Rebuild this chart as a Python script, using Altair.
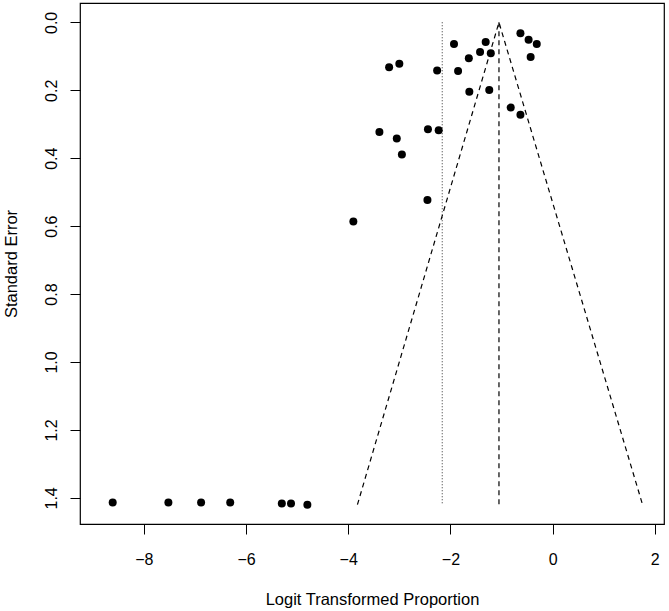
import altair as alt
import pandas as pd

# Study estimates (logit transformed proportions) and standard errors
study_x = [-0.63, -0.47, -0.31, -0.43, -1.93, -1.31, -1.42, -1.21, -1.64,
           -3.20, -3.00, -2.26, -1.85, -1.63, -1.24, -0.82, -0.63,
           -3.39, -3.05, -2.95, -2.44, -2.23, -2.45, -3.90,
           -8.61, -7.52, -6.88, -6.31, -5.30, -5.12, -4.80]
study_se = [0.032, 0.051, 0.064, 0.102, 0.064, 0.058, 0.087, 0.091, 0.106,
            0.132, 0.122, 0.142, 0.143, 0.204, 0.199, 0.251, 0.272,
            0.323, 0.342, 0.389, 0.315, 0.318, 0.523, 0.586,
            1.414, 1.414, 1.414, 1.414, 1.417, 1.417, 1.420]

# Pooled estimate (dashed) and reference line (dotted)
estimate_x = -1.05
reference_x = -2.16
max_se = 1.42

# Funnel outline vertices
funnel_x = [-3.82, -1.05, 1.76]
funnel_se = [1.42, 0.0, 1.42]

x_ticks = [-8, -6, -4, -2, 0, 2]
y_ticks = [0.0, 0.2, 0.4, 0.6, 0.8, 1.0, 1.2, 1.4]

pts = pd.DataFrame({"x": study_x, "se": study_se})
funnel = pd.DataFrame({"x": funnel_x, "se": funnel_se, "o": list(range(len(funnel_x)))})
vlines = pd.DataFrame({"x": [estimate_x, reference_x],
                       "se0": [0.0, 0.0], "se1": [max_se, max_se],
                       "kind": ["est", "ref"]})

FONT = "Liberation Sans"

xscale = alt.Scale(domain=[-9.25, 2.18], nice=False, zero=False)
yscale = alt.Scale(domain=[-0.057, 1.477], nice=False, zero=False, reverse=True)

xaxis = alt.Axis(values=x_ticks, title="Logit Transformed Proportion",
                 labelExpr="replace(datum.label, '-', '\u2212')",
                 grid=False, domain=False,
                 tickSize=10, labelPadding=30, labelBaseline="alphabetic",
                 titleX=292, titleY=80, titleBaseline="alphabetic", titleAlign="center")
yaxis = alt.Axis(values=y_ticks, format=".1f", title="Standard Error",
                 grid=False, domain=False,
                 tickSize=10, labelAngle=-90, labelAlign="center",
                 labelBaseline="alphabetic", labelPadding=14,
                 titleX=-64, titleY=260.5, titleAngle=-90,
                 titleBaseline="alphabetic", titleAlign="center")

points = alt.Chart(pts).mark_circle(size=64, color="black", opacity=1).encode(
    x=alt.X("x:Q", scale=xscale, axis=xaxis),
    y=alt.Y("se:Q", scale=yscale, axis=yaxis),
)

funnel_line = alt.Chart(funnel).mark_line(color="black", strokeWidth=1.2,
                                          strokeDash=[5, 4]).encode(
    x=alt.X("x:Q", scale=xscale),
    y=alt.Y("se:Q", scale=yscale),
    order="o:Q",
)

est_rule = alt.Chart(vlines[vlines.kind == "est"]).mark_rule(
    color="black", strokeWidth=1.2, strokeDash=[5, 4]).encode(
    x=alt.X("x:Q", scale=xscale),
    y=alt.Y("se0:Q", scale=yscale),
    y2="se1:Q",
)

ref_rule = alt.Chart(vlines[vlines.kind == "ref"]).mark_rule(
    color="#444444", strokeWidth=1.1, strokeDash=[1, 2]).encode(
    x=alt.X("x:Q", scale=xscale),
    y=alt.Y("se0:Q", scale=yscale),
    y2="se1:Q",
)

chart = alt.layer(ref_rule, est_rule, funnel_line, points).properties(
    width=584, height=521,
    background="white",
    autosize=alt.AutoSizeParams(type="none"),
    padding={"left": 80, "top": 3, "right": 5, "bottom": 87},
).configure_view(
    stroke="black", strokeWidth=1.2, fill="white"
).configure_axis(
    domain=False, grid=False, tickColor="black", tickWidth=1,
    labelFont=FONT, titleFont=FONT, labelFontSize=16, titleFontSize=16.5,
    labelColor="black", titleColor="black", titleFontWeight="normal",
)

chart.save("out.html", embed_options={"renderer": "svg", "actions": False})
